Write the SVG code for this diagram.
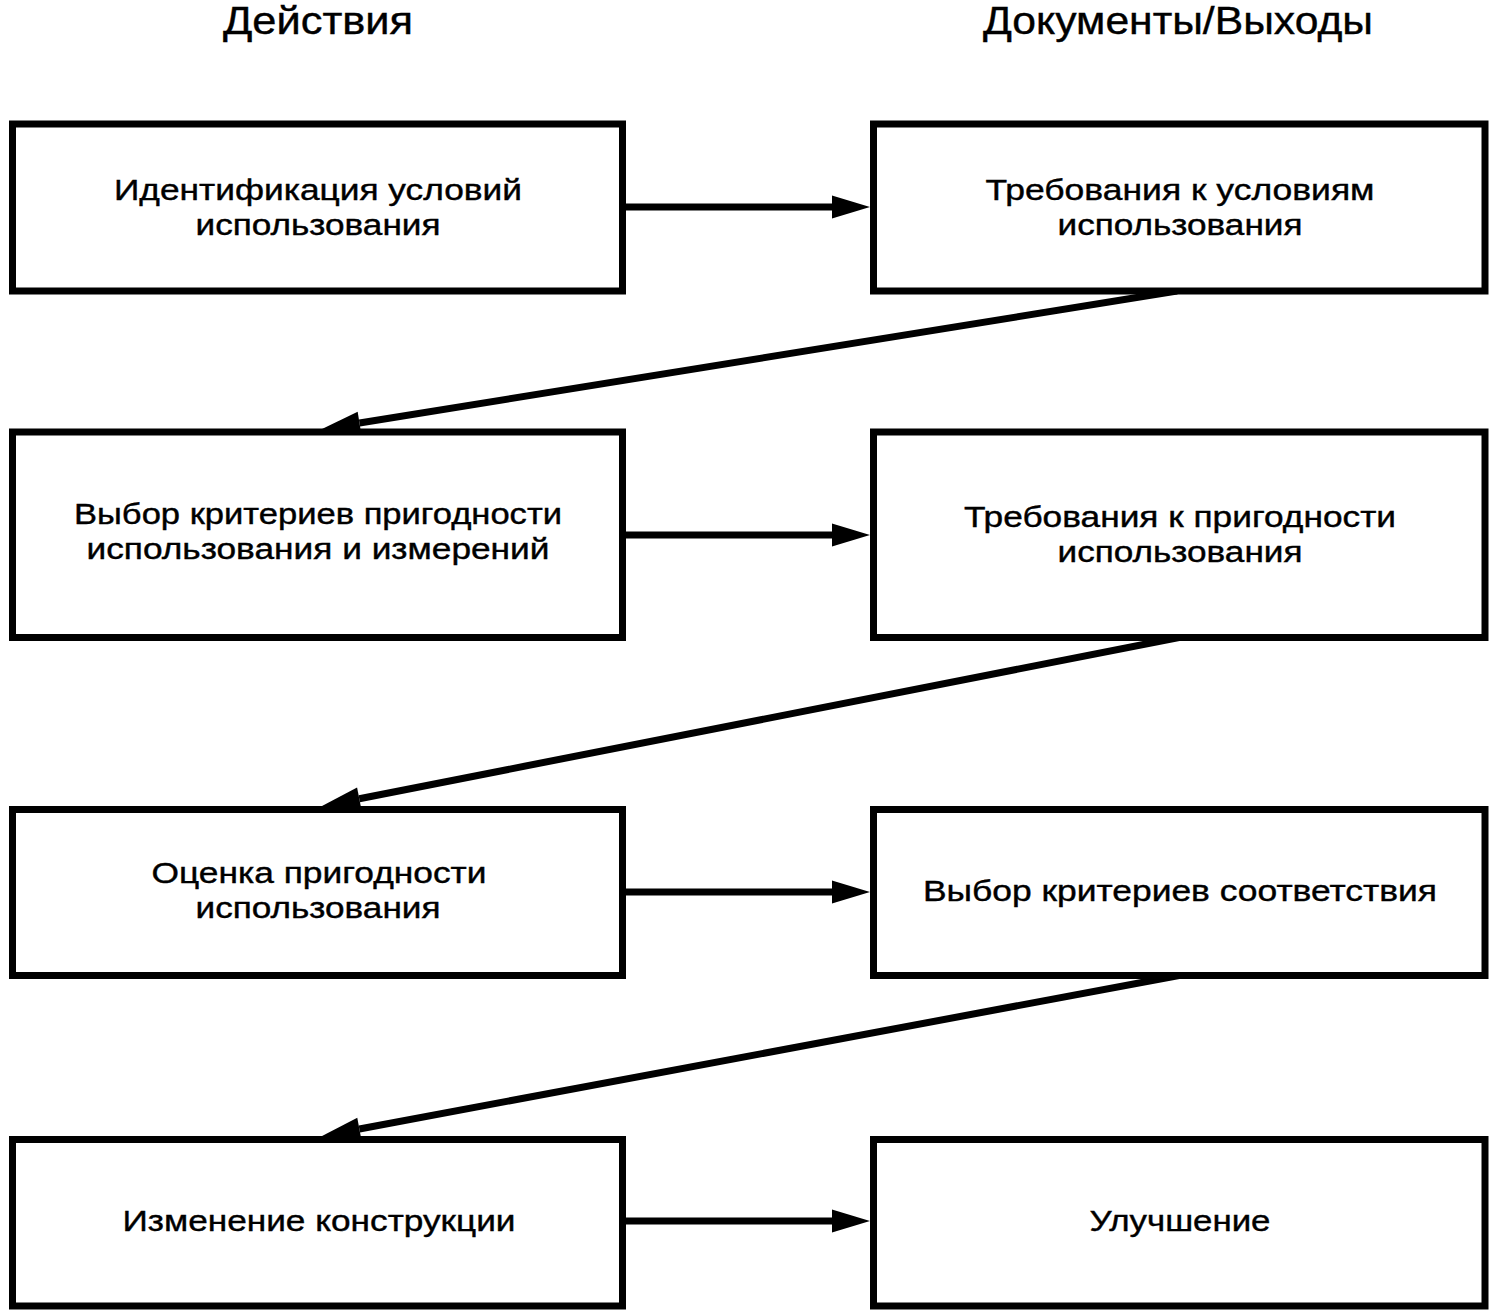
<svg xmlns="http://www.w3.org/2000/svg" width="1499" height="1316" viewBox="0 0 1499 1316">
<style>
.box{fill:#fff;stroke:#000;stroke-width:7}
.t{font-family:"Liberation Sans",Arial,sans-serif;font-size:29.5px;fill:#000;text-anchor:middle;stroke:#000;stroke-width:0.4}
.h{font-family:"Liberation Sans",Arial,sans-serif;font-size:39px;fill:#000;text-anchor:middle;stroke:#000;stroke-width:0.4}
.c{stroke:#000;stroke-width:7;fill:none}
</style>
<defs>
<marker id="ah" markerUnits="userSpaceOnUse" markerWidth="40" markerHeight="24" refX="0" refY="11.5" orient="auto" overflow="visible">
<path d="M0,0 L38,11.5 L0,23 Z" fill="#000"/>
</marker>
</defs>
<rect width="1499" height="1316" fill="#fff"/>
<g id="headers">
<text class="h" x="318" y="34" textLength="190" lengthAdjust="spacingAndGlyphs">Действия</text>
<text class="h" x="1178" y="34" textLength="390" lengthAdjust="spacingAndGlyphs">Документы/Выходы</text>
</g>
<g id="connectors">
<line class="c" x1="622.5" y1="207" x2="832" y2="207" marker-end="url(#ah)"/>
<line class="c" x1="622.5" y1="535" x2="832" y2="535" marker-end="url(#ah)"/>
<line class="c" x1="622.5" y1="892" x2="832" y2="892" marker-end="url(#ah)"/>
<line class="c" x1="622.5" y1="1221" x2="832" y2="1221" marker-end="url(#ah)"/>
<line class="c" x1="1177" y1="291" x2="359.5" y2="423" marker-end="url(#ah)"/>
<line class="c" x1="1179" y1="637.5" x2="359.3" y2="798.7" marker-end="url(#ah)"/>
<line class="c" x1="1179" y1="975.5" x2="359.4" y2="1129" marker-end="url(#ah)"/>
</g>
<g id="n1">
<rect class="box" x="12.5" y="124" width="610" height="167"/>
<text class="t" x="318" y="200" textLength="408" lengthAdjust="spacingAndGlyphs">Идентификация условий</text>
<text class="t" x="318" y="235" textLength="245" lengthAdjust="spacingAndGlyphs">использования</text>
</g>
<g id="n2">
<rect class="box" x="873.5" y="124" width="611.5" height="167"/>
<text class="t" x="1180" y="200" textLength="389" lengthAdjust="spacingAndGlyphs">Требования к условиям</text>
<text class="t" x="1180" y="235" textLength="245" lengthAdjust="spacingAndGlyphs">использования</text>
</g>
<g id="n3">
<rect class="box" x="12.5" y="432" width="610" height="205.5"/>
<text class="t" x="318" y="524" textLength="488" lengthAdjust="spacingAndGlyphs">Выбор критериев пригодности</text>
<text class="t" x="318" y="559" textLength="463" lengthAdjust="spacingAndGlyphs">использования и измерений</text>
</g>
<g id="n4">
<rect class="box" x="873.5" y="432" width="611.5" height="205.5"/>
<text class="t" x="1180" y="527" textLength="432" lengthAdjust="spacingAndGlyphs">Требования к пригодности</text>
<text class="t" x="1180" y="562" textLength="245" lengthAdjust="spacingAndGlyphs">использования</text>
</g>
<g id="n5">
<rect class="box" x="12.5" y="809.5" width="610" height="166"/>
<text class="t" x="319" y="883" textLength="335" lengthAdjust="spacingAndGlyphs">Оценка пригодности</text>
<text class="t" x="318" y="918" textLength="245" lengthAdjust="spacingAndGlyphs">использования</text>
</g>
<g id="n6">
<rect class="box" x="873.5" y="809.5" width="611.5" height="166"/>
<text class="t" x="1180" y="901" textLength="514" lengthAdjust="spacingAndGlyphs">Выбор критериев соответствия</text>
</g>
<g id="n7">
<rect class="box" x="12.5" y="1139.5" width="610" height="166.5"/>
<text class="t" x="319" y="1231" textLength="393" lengthAdjust="spacingAndGlyphs">Изменение конструкции</text>
</g>
<g id="n8">
<rect class="box" x="873.5" y="1139.5" width="611.5" height="166.5"/>
<text class="t" x="1180" y="1231" textLength="181" lengthAdjust="spacingAndGlyphs">Улучшение</text>
</g>
</svg>
